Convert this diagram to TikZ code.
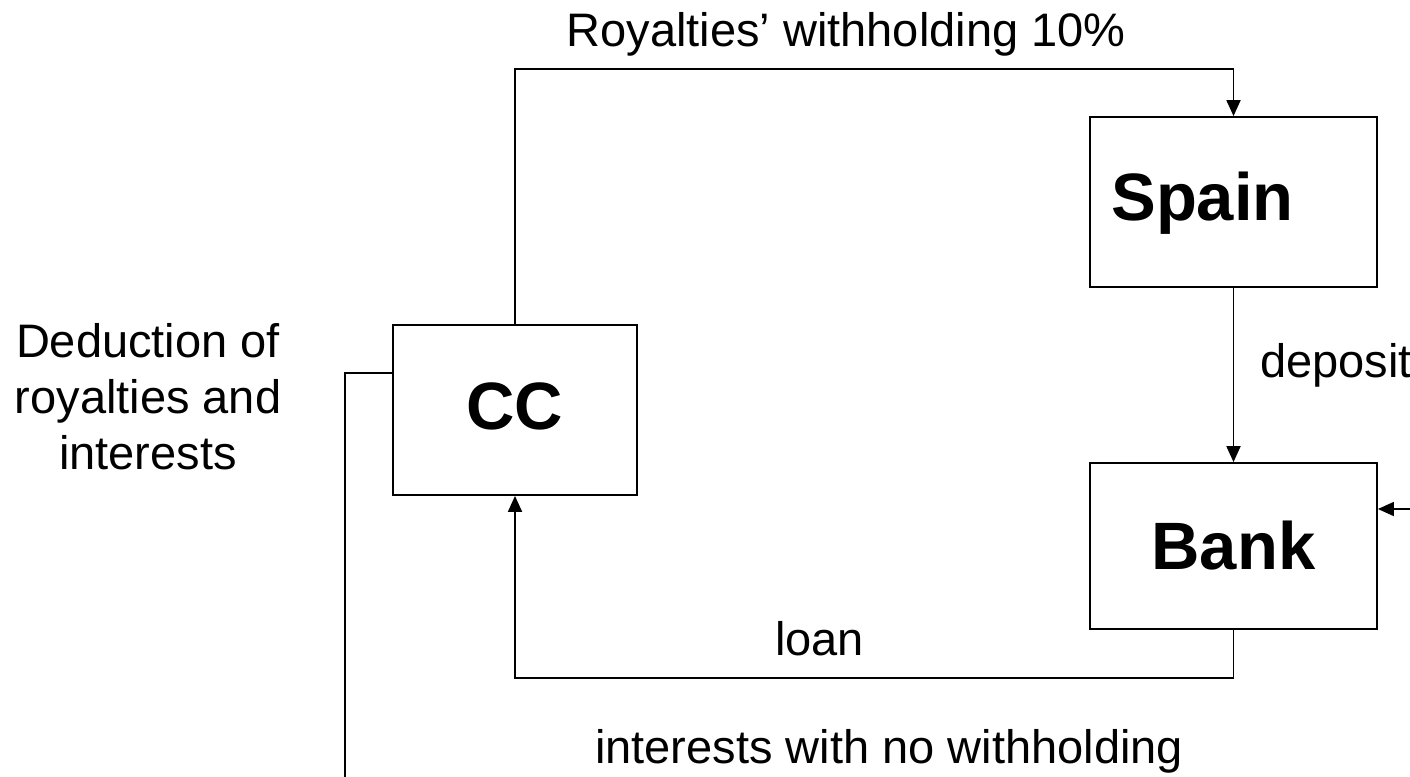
\documentclass[tikz,border=0pt]{standalone}
\usepackage{fontspec}
\setmainfont{Liberation Sans}
\usetikzlibrary{positioning,arrows.meta,calc}

\begin{document}
\begin{tikzpicture}[
  x=1pt,y=-1pt,
  font=\fontsize{47}{56}\selectfont,
  box/.style={draw,line width=1.8pt,inner sep=0pt,minimum height=170pt},
  boxlbl/.style={inner sep=0pt,font=\fontsize{67}{80}\selectfont\bfseries},
  line/.style={line width=1.8pt},
  arr/.style={line,-{Triangle[length=16pt,width=14pt]}},
  txt/.style={inner sep=0pt},
]
  \useasboundingbox (0,0) rectangle (1410,776);

  % the three parties
  \node[box,minimum width=244pt] (cc) at (515,410) {};
  \node[boxlbl] at (515,406) {CC};
  \node[box,minimum width=287pt] (spain) at (1233.5,202) {};
  \node[boxlbl,anchor=west] at ([xshift=22pt,yshift=-1pt]spain.west) {Spain};
  \node[box,minimum width=287pt,minimum height=166pt] (bank) at (1233.5,546) {};
  \node[boxlbl] at (bank.center) {Bank};

  % flows
  \coordinate (feed) at (1420,509);
  \coordinate (tail) at (345,790);
  \draw[arr] (cc.north) |- ([yshift=47pt]spain.north) -| (spain.north);
  \draw[arr] (spain.south) -- (bank.north);
  \draw[arr] (bank.south) -- ++(0,48) -| (cc.south);
  \draw[arr] (feed) -- (bank.east |- feed);
  \draw[line] ([yshift=37pt]cc.west) -| (tail);

  % labels
  \node[txt,anchor=base] (roy) at (846,47) {Royalties’ withholding 10\%};
  \node[txt,anchor=base west] (dep) at (1260,377) {deposit};
  \node[txt,anchor=base west] (loan) at (775,655) {loan};
  \node[txt,anchor=base west] (nowh) at (595,763) {interests with no withholding};
  \node[txt,anchor=north,align=center] (ded) at (148,323)
    {Deduction of\\royalties and\\interests};
\end{tikzpicture}
\end{document}
